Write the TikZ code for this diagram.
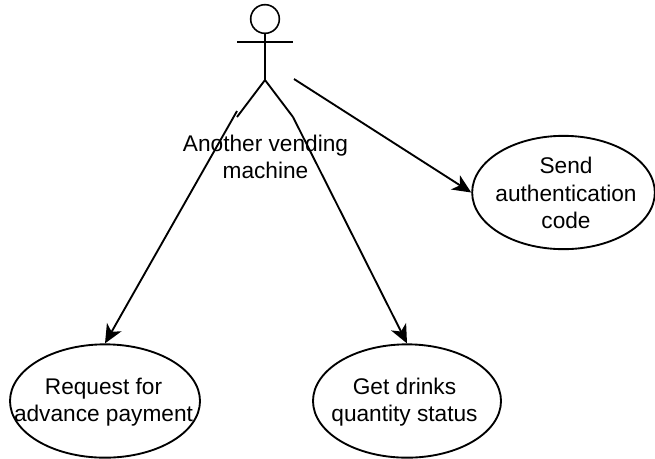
\documentclass[tikz,border=0pt]{standalone}
\usepackage{fontspec}
\setmainfont{Liberation Sans}
\usetikzlibrary{arrows.meta,shapes.geometric}
\tikzset{
  usecase/.style={draw,ellipse,line width=1.4pt,inner sep=0pt},
  casetext/.style={align=center,font=\fontsize{17}{20.6}\selectfont},
  limb/.style={line width=1.4pt},
  assoc/.style={line width=1.4pt,-{Stealth[length=14pt,width=12.5pt,inset=4pt]}}
}
\begin{document}
\begin{tikzpicture}[x=.75pt,y=-.75pt]
   \useasboundingbox (0,0) rectangle (655,458);

   \node[draw,circle,line width=1.2pt,minimum size=21.5pt,inner sep=0pt] (head) at (265,19) {};
   \coordinate (armL) at (237,42);
   \coordinate (armR) at (293,42);
   \coordinate (hip) at (265,80);
   \coordinate (footL) at (237,117);
   \coordinate (footR) at (293,117);
   \coordinate (startL) at (237,111);
   \coordinate (startS) at (294,79);

   \draw[limb] (head) -- (hip);
   \draw[limb] (armL) -- (armR);
   \draw[limb] (footL) -- (hip) -- (footR);

   \node[casetext] (actor) at (265.5,157) {Another vending\\machine};

   \node[usecase,minimum width=142.5pt,minimum height=85pt] (request) at (105,401) {};
   \node[usecase,minimum width=141pt,minimum height=85pt] (drinks) at (407,401) {};
   \node[usecase,minimum width=137pt,minimum height=85pt] (send) at (563.5,192.5) {};

   \node[casetext] (requestText) at (103.5,402) {Request for\\advance payment};
   \node[casetext] (drinksText) at (404.5,402) {Get drinks\\quantity status};
   \node[casetext] (sendText) at (566,193) {Send\\authentication\\code};

   \draw[assoc] (startL) -- (request.north);
   \draw[assoc] (footR) -- (drinks.north);
   \draw[assoc] (startS) -- (send.west);
\end{tikzpicture}
\end{document}
